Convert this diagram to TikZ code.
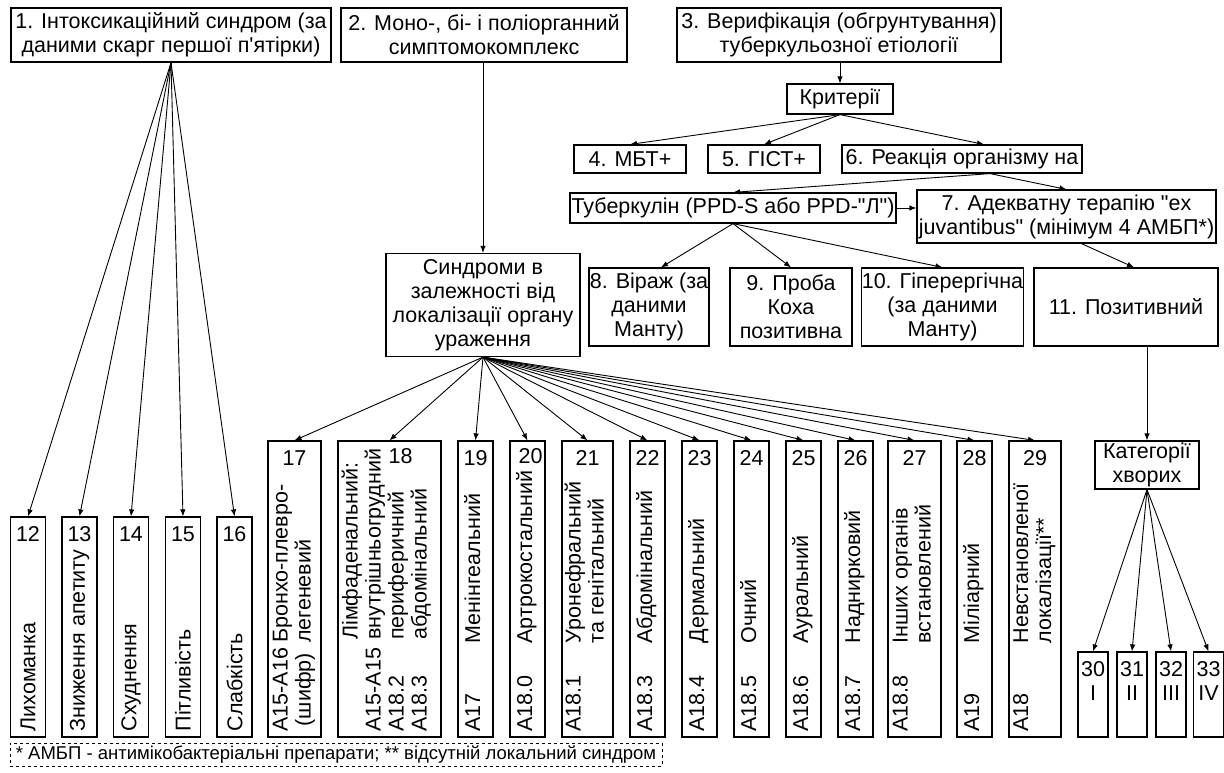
\documentclass[tikz,border=0pt]{standalone}
\usepackage{fontspec}
\setmainfont{Liberation Sans}[Ligatures=TeXOff]
\usetikzlibrary{arrows.meta,positioning}

% rotated column text: code column, then name
\newcommand{\vcol}[1]{\begin{tabular}{@{}p{88pt}@{}l@{}}#1\end{tabular}}

\begin{document}
\begin{tikzpicture}[
      x=1pt,y=-1pt,
      font=\fontsize{21.5}{24}\selectfont,
      >={Latex[length=7pt,width=5.5pt]},
      box/.style={draw,line width=1.2pt,inner sep=0pt,align=center},
      col/.style={box,minimum height=296pt},
      low/.style={box,minimum width=35pt,minimum height=220pt},
      cat/.style={box,minimum width=30pt,minimum height=85pt},
      num/.style={inner sep=0pt,align=center},
      vtext/.style={rotate=90,anchor=west,inner sep=0pt,font=\fontsize{21.5}{23}\selectfont},
      arr/.style={->,line width=0.9pt}
    ]
      \useasboundingbox (0,0) rectangle (1224,772);

      % upper part
      \node[box,minimum width=320pt,minimum height=54pt] (intox) at (171,35) {1. Інтоксикаційний синдром (за\\даними скарг першої п'ятірки)};
      \node[box,minimum width=286pt,minimum height=54pt] (complex) at (484,35) {2. Моно-, бі- і поліорганний\\симптомокомплекс};
      \node[box,minimum width=324pt,minimum height=54pt] (verif) at (839,35) {3. Верифікація (обгрунтування)\\туберкульозної етіології};
      \node[box,minimum width=106pt,minimum height=30pt] (krit) at (840,99) {Критерії};
      \node[box,minimum width=112pt,minimum height=28pt] (mbt) at (630,159) {4. МБТ+};
      \node[box,minimum width=112pt,minimum height=28pt] (gist) at (764,159) {5. ГІСТ+};
      \node[box,minimum width=240pt,minimum height=28pt] (react) at (962,159) {6. Реакція організму на};
      \node[box,minimum width=326pt,minimum height=30pt] (tub) at (733,208) {Туберкулін (PPD-S або PPD-"Л")};
      \node[box,minimum width=299pt,minimum height=53pt] (ther) at (1066.5,216.5) {7. Адекватну терапію "ex\\juvantibus" (мінімум 4 АМБП*)};
      \node[box,minimum width=120pt,minimum height=78pt] (virazh) at (649,307) {8. Віраж (за\\даними\\Манту)};
      \node[box,minimum width=122pt,minimum height=78pt] (koch) at (791,307) {9. Проба\\Коха\\позитивна};
      \node[box,minimum width=151pt,minimum height=78pt] (hyper) at (942.5,307) {10. Гіперергічна\\(за даними\\Манту)};
      \node[box,minimum width=184pt,minimum height=78pt] (pos) at (1126,307) {11. Позитивний};
      \node[box,minimum width=194pt,minimum height=103pt] (synd) at (483,305) {Синдроми в\\залежності від\\локалізації органу\\ураження};
      \node[box,minimum width=104pt,minimum height=48pt] (kat) at (1147,465) {Категорії\\хворих};

      \draw[arr] (krit.north |- verif.south) -- (krit.north);
      \draw[arr] (krit.south) -- (mbt.north);
      \draw[arr] (krit.south) -- (gist.north);
      \draw[arr] (krit.south) -- ([xshift=22pt]react.north);
      \draw[arr] ([xshift=28pt]react.south) -- (tub.north);
      \draw[arr] ([xshift=28pt]react.south) -- (ther.north);
      \draw[arr] (tub.east) -- (ther.west |- tub.east);
      \draw[arr] (tub.south) -- ([xshift=12pt]virazh.north);
      \draw[arr] (tub.south) -- (koch.north);
      \draw[arr] (tub.south) -- (hyper.north);
      \draw[arr] ([xshift=15pt]ther.south) -- ([xshift=8pt]pos.north);
      \draw[arr] (kat.north |- pos.south) -- (kat.north);
      \draw[arr] (synd.north |- complex.south) -- (synd.north);

      % symptoms of intoxication
      \foreach \n/\x/\t in {12/28/Лихоманка,13/79.5/Зниження апетиту,14/131/Схуднення,
                            15/183/Пітливість,16/234.5/Слабкість}{
        \node[low] (s\n) at (\x,627) {};
        \node[num,anchor=north,below=10pt of s\n.north] (s\n-num) {\n};
        \node[vtext] (s\n-txt) at ([yshift=6pt]s\n.south) {\t};
        \draw[arr] (intox.south) -- (s\n.north);
      }

      % syndromes by localisation
      \node[col,minimum width=53pt] (c17) at (294.5,589) {};
      \node[vtext] (c17-txt) at ([yshift=6pt]c17.south)
        {\begin{tabular}{@{}c@{\hspace{5pt}}l@{}}A15-A16 & Бронхо-плевро-\\(шифр) & легеневий\end{tabular}};
      \node[col,minimum width=103pt] (c18) at (389.5,589) {};
      \node[vtext] (c18-txt) at ([xshift=-2pt,yshift=6pt]c18.south)
        {\begin{tabular}{@{}l@{\hspace{8pt}}l@{}} & Лімфаденальний:\\A15-A15 & внутрішньогрудний\\A18.2 & периферичний\\A18.3 & абдомінальний\end{tabular}};
      \foreach \n/\x/\w/\t in {19/475.5/35/{A17&Менінгеальний},20/527.5/35/{A18.0&Артрокостальний},
                               21/587.5/51/{A18.1&Уронефральний\\&та генітальний},22/647.5/35/{A18.3&Абдомінальний},
                               23/699.5/35/{A18.4&Дермальний},24/751.5/35/{A18.5&Очний},
                               25/803.5/35/{A18.6&Ауральний},26/855.5/35/{A18.7&Наднирковий},
                               27/914.5/53/{A18.8&Інших органів\\&встановлений},28/974.5/35/{A19&Міліарний},
                               29/1035/52/{A18&Невстановленої\\&локалізації**}}{
        \node[col,minimum width=\w pt] (c\n) at (\x,589) {};
        \node[vtext] (c\n-txt) at ([yshift=6pt]c\n.south) {\vcol{\t}};
      }
      \foreach \n in {17,19,21,22,23,24,25,26,27,28,29}{
        \node[num,anchor=north,below=10pt of c\n.north] (c\n-num) {\n};
      }
      \node[num,anchor=north,below=8pt of c18.north,xshift=11pt] (c18-num) {18};
      \node[num,anchor=north,below=8pt of c20.north,xshift=3pt] (c20-num) {20};
      \foreach \n in {17,...,29}{
        \draw[arr] (synd.south) -- (c\n.north);
      }

      % categories of patients
      \foreach \n/\x/\r in {30/1093/I,31/1132/II,32/1171/III,33/1208.5/IV}{
        \node[cat] (k\n) at (\x,694.5) {};
        \node[num,anchor=north,below=10pt of k\n.north] (k\n-num) {\n\\\r};
        \draw[arr] (kat.south) -- (k\n.north);
      }

      \node[draw,dashed,line width=0.8pt,minimum width=652pt,minimum height=23pt,inner sep=0pt,
            font=\fontsize{18.5}{20}\selectfont] (note) at (336,754.5)
        {* АМБП - антимікобактеріальні препарати; ** відсутній локальний синдром};
    \end{tikzpicture}
\end{document}
